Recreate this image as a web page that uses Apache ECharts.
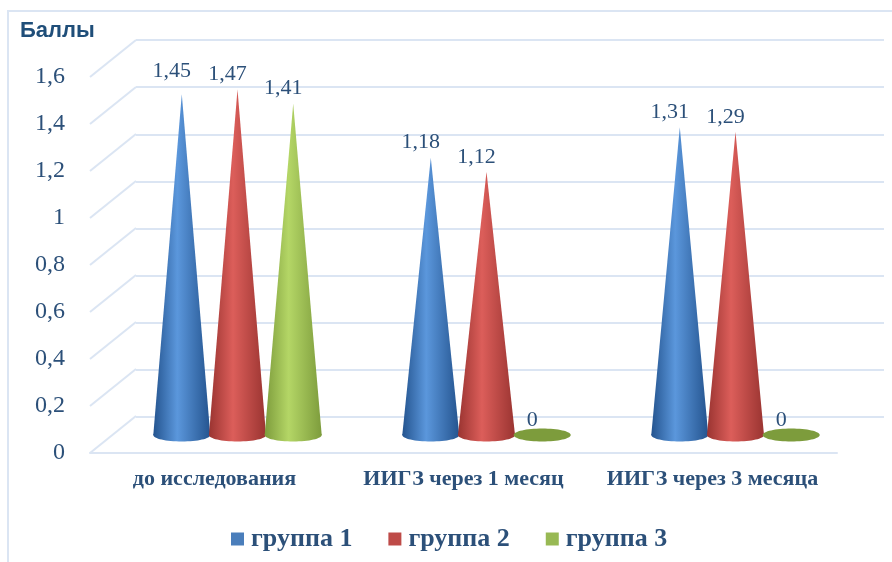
<!DOCTYPE html>
<html>
<head>
<meta charset="utf-8">
<title>Баллы</title>
<style>
    html, body { margin: 0; padding: 0; background: #fff; }
    #main { width: 892px; height: 562px; }
</style>
<script src="https://cdn.jsdelivr.net/npm/echarts@6/dist/echarts.min.js"></script>
</head>
<body>
<div id="main"></div>
<script>
    // data
    var categories = ['до исследования', 'ИИГЗ через 1 месяц', 'ИИГЗ через 3 месяца'];
    var group1 = [1.45, 1.18, 1.31];
    var group2 = [1.47, 1.12, 1.29];
    var group3 = [1.41, 0, 0];
    var groupNames = ['группа 1', 'группа 2', 'группа 3'];
    var ticks = [0, 0.2, 0.4, 0.6, 0.8, 1, 1.2, 1.4, 1.6];

    // colors: edge, light middle, solid (legend and flat cones)
    var palette = [
        ['#24548f', '#5b97dc', '#4a7ebb'],
        ['#9a3431', '#dc5e5a', '#be4b48'],
        ['#7d9c3c', '#b4d666', '#98b954']
    ];
    var textColor = '#2c5079';
    var gridColor = '#dbe5f3';

    var chart = echarts.init(document.getElementById('main'));

    // the chart is a fake 3d box: back wall, front edge and a plane halfway for the cones
    var depthX = 46, depthY = 37;

    function renderCone(params, api) {
        var value = api.value(1);
        var band = api.size([1, 0])[0];
        var base = api.coord([api.value(0), 0]);
        var top = api.coord([api.value(0), value]);
        var cx = base[0] + (params.seriesIndex - 2) * band * 0.2237;
        var rx = band * 0.1145;
        var ry = 6.5;
        var colors = palette[params.seriesIndex - 1];
        var fill = new echarts.graphic.LinearGradient(0, 0, 1, 0, [
            { offset: 0, color: colors[0] },
            { offset: 0.42, color: colors[1] },
            { offset: 1, color: colors[0] }
        ]);
        var children = [];

        if (value > 0) {
            children.push({
                type: 'polygon',
                shape: { points: [[cx, top[1]], [cx - rx, base[1]], [cx + rx, base[1]]] },
                style: { fill: fill }
            });
        }
        children.push({
            type: 'ellipse',
            shape: { cx: cx, cy: base[1], rx: rx, ry: ry },
            style: { fill: value > 0 ? fill : colors[0] }
        });
        // first label sits a bit higher in the original
        var lift = (params.seriesIndex === 1 && params.dataIndex === 0) ? 23 : 15;
        children.push({
            type: 'text',
            x: cx - 10,
            y: top[1] - lift,
            style: {
                text: String(value).replace('.', ','),
                fill: textColor,
                font: '22px "Liberation Serif"',
                align: 'center',
                verticalAlign: 'middle'
            }
        });
        return { type: 'group', children: children };
    }

    function renderDiagonal(params, api) {
        var p = api.coord([0, api.value(0)]);
        var x = p[0] - api.size([1, 0])[0] / 2;
        return {
            type: 'line',
            shape: { x1: x, y1: p[1], x2: x + depthX, y2: p[1] - depthY },
            style: { stroke: gridColor, lineWidth: 2 }
        };
    }

    function coneSeries(index, values) {
        return {
            name: groupNames[index],
            type: 'custom',
            xAxisIndex: 2,
            yAxisIndex: 2,
            itemStyle: { color: palette[index][2] },
            renderItem: renderCone,
            encode: { x: 0, y: 1 },
            data: values.map(function (v, i) { return [i, v]; }),
            z: 5
        };
    }

    var hiddenX = { type: 'category', data: categories, axisLine: { show: false }, axisTick: { show: false }, axisLabel: { show: false } };
    var hiddenY = { type: 'value', min: 0, max: 1.6, interval: 0.2, axisLine: { show: false }, axisTick: { show: false }, axisLabel: { show: false }, splitLine: { show: false } };

    var option = {
        backgroundColor: '#fff',
        animation: false,
        title: {
            text: 'Баллы',
            left: 15,
            top: 15,
            textStyle: { color: '#1f4e79', fontSize: 22, fontWeight: 'bold', fontFamily: 'Liberation Sans' }
        },
        // frame of the picture, only top and left are visible
        graphic: [{
            type: 'polyline',
            shape: { points: [[8, 562], [8, 11], [892, 11]] },
            style: { stroke: gridColor, lineWidth: 2, fill: null }
        }],
        legend: {
            data: groupNames,
            left: 226,
            top: 521,
            icon: 'rect',
            itemWidth: 13,
            itemHeight: 13,
            itemGap: 36,
            textStyle: { color: textColor, fontSize: 26, fontWeight: 'bold', fontFamily: 'Liberation Serif', padding: [0, 0, 0, 2] }
        },
        grid: [
            { left: 136, top: 40, width: 748, height: 377 },   // back wall
            { left: 90, top: 77, width: 747, height: 376 },    // front edge
            { left: 113, top: 59, width: 747, height: 376 }    // cones
        ],
        xAxis: [
            Object.assign({}, hiddenX, { gridIndex: 0 }),
            {
                gridIndex: 1,
                type: 'category',
                data: categories,
                axisLine: { show: true, lineStyle: { color: gridColor, width: 2 } },
                axisTick: { show: false },
                axisLabel: { interval: 0, hideOverlap: false, margin: 15, color: textColor, fontSize: 22, fontWeight: 'bold', fontFamily: 'Liberation Serif' }
            },
            Object.assign({}, hiddenX, { gridIndex: 2 })
        ],
        yAxis: [
            Object.assign({}, hiddenY, { gridIndex: 0, splitLine: { show: true, lineStyle: { color: gridColor, width: 2 } } }),
            Object.assign({}, hiddenY, {
                gridIndex: 1,
                axisLabel: {
                    show: true,
                    margin: 25,
                    padding: [4, 0, 0, 0],
                    color: textColor,
                    fontSize: 24,
                    fontFamily: 'Liberation Serif',
                    formatter: function (v) { return String(v).replace('.', ','); }
                }
            }),
            Object.assign({}, hiddenY, { gridIndex: 2 })
        ],
        series: [
            {
                type: 'custom',
                xAxisIndex: 1,
                yAxisIndex: 1,
                renderItem: renderDiagonal,
                encode: { y: 0 },
                data: ticks.map(function (t) { return [t]; }),
                silent: true,
                z: 1
            },
            coneSeries(0, group1),
            coneSeries(1, group2),
            coneSeries(2, group3)
        ]
    };

    chart.setOption(option);
</script>
</body>
</html>
